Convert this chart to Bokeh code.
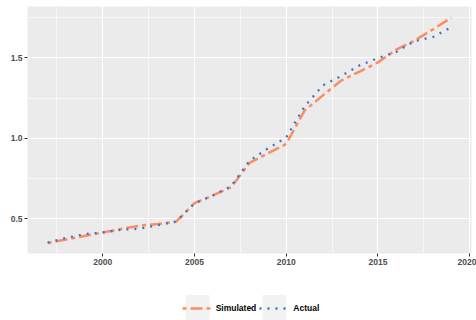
from bokeh.plotting import figure
from bokeh.layouts import column
from bokeh.models import Range1d, FixedTicker, Legend, LegendItem, NumeralTickFormatter, ColumnDataSource
from bokeh.embed import file_html
from bokeh.resources import INLINE

years = list(range(1997, 2020))
actual = [0.352, 0.381, 0.405, 0.415, 0.432, 0.438, 0.460, 0.483, 0.596, 0.645, 0.703,
          0.860, 0.937, 1.005, 1.198, 1.329, 1.387, 1.453, 1.498, 1.537, 1.604, 1.629, 1.690]
simulated = [0.350, 0.371, 0.393, 0.415, 0.437, 0.457, 0.468, 0.482, 0.597, 0.645, 0.697,
             0.847, 0.907, 0.965, 1.172, 1.267, 1.359, 1.415, 1.472, 1.551, 1.607, 1.677, 1.750]
series_names = ["Simulated", "Actual"]
x_ticks = [2000, 2005, 2010, 2015, 2020]
x_minor = [1997.5, 2002.5, 2007.5, 2012.5, 2017.5]
y_ticks = [0.5, 1.0, 1.5]
y_minor = [0.75, 1.25, 1.75]

SIM_COLOR = "#FC8D62"
ACT_COLOR = "#4472C4"
FONT = "Liberation Sans"
SIM_STYLE = dict(line_color=SIM_COLOR, line_width=2.5, line_dash="4 4 12 4", line_cap="butt")
ACT_STYLE = dict(line_color=ACT_COLOR, line_width=2.3, line_dash="2 6", line_cap="butt")

src = ColumnDataSource(dict(year=years, actual=actual, simulated=simulated))

p = figure(width=476, height=270, output_backend="svg", toolbar_location=None,
           x_range=Range1d(1995.9, 2020.1), y_range=Range1d(0.2845, 1.819),
           min_border_left=27, min_border_right=5, min_border_top=6, min_border_bottom=17)

p.background_fill_color = "#EBEBEB"
p.border_fill_color = "white"
p.outline_line_color = None

p.line("year", "simulated", source=src, **SIM_STYLE)
p.line("year", "actual", source=src, **ACT_STYLE)

# axes
p.xaxis.ticker = FixedTicker(ticks=x_ticks, minor_ticks=x_minor)
p.yaxis.ticker = FixedTicker(ticks=y_ticks, minor_ticks=y_minor)
p.yaxis.formatter = NumeralTickFormatter(format="0.0")
for ax in (p.xaxis[0], p.yaxis[0]):
    ax.axis_line_color = None
    ax.major_tick_line_color = "#333333"
    ax.major_tick_out = 3
    ax.major_tick_in = 0
    ax.minor_tick_out = 0
    ax.minor_tick_in = 0
    ax.major_label_text_font = FONT
    ax.major_label_text_font_style = "bold"
    ax.major_label_text_font_size = "8.5px"
    ax.major_label_text_color = "#4D4D4D"
    ax.major_label_standoff = 2

for g in (p.xgrid[0], p.ygrid[0]):
    g.grid_line_color = "white"
    g.grid_line_width = 1.2
    g.minor_grid_line_color = "white"
    g.minor_grid_line_width = 0.6

# legend strip below the plot (its key renderers lie outside the strip's ranges)
lg = figure(width=476, height=50, output_backend="svg", toolbar_location=None,
            x_axis_type=None, y_axis_type=None, min_border=0,
            x_range=Range1d(0, 1), y_range=Range1d(0, 1))
lg.outline_line_color = None
lg.background_fill_color = "white"
lg.border_fill_color = "white"
lg.grid.visible = False

key_src = ColumnDataSource(dict(x=[5, 6], y=[5, 6]))
key_bg = lg.quad(left="x", right="y", top="y", bottom="x", source=key_src,
                 fill_color="#F2F2F2", line_color=None)
sim_key = lg.line("x", "y", source=key_src, **SIM_STYLE)
act_key = lg.line("x", "y", source=key_src, **ACT_STYLE)

legend = Legend(items=[LegendItem(label=series_names[0], renderers=[key_bg, sim_key]),
                       LegendItem(label=series_names[1], renderers=[key_bg, act_key])],
                orientation="horizontal", location=(154.7, -4.7),
                glyph_width=30, glyph_height=34, label_standoff=4, spacing=3,
                padding=0, margin=0, border_line_color=None, background_fill_alpha=0,
                label_text_font=FONT, label_text_font_style="bold",
                label_text_font_size="8.5px", label_text_color="black")
lg.add_layout(legend, "center")

layout = column(p, lg, spacing=0)
open("out.html", "w").write(file_html(layout, INLINE))
